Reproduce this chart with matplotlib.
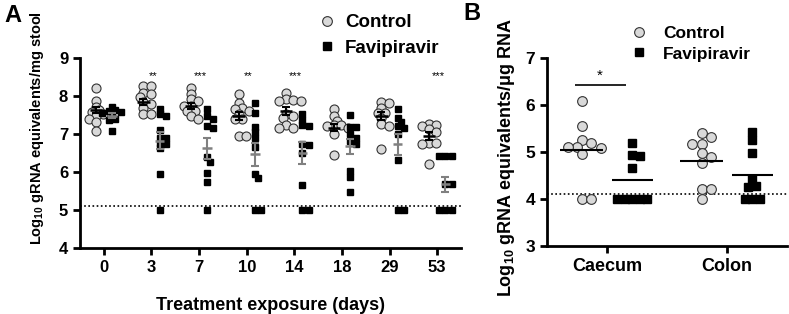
import numpy as np
import matplotlib
matplotlib.use('Agg')
import matplotlib.pyplot as plt
from matplotlib.lines import Line2D

plt.rcParams['font.family'] = ['Liberation Sans', 'DejaVu Sans']
plt.rcParams['font.weight'] = 'bold'
plt.rcParams['mathtext.fontset'] = 'custom'
plt.rcParams['mathtext.rm'] = 'Liberation Sans'

# panel A data (log10 gRNA equivalents / mg stool)
days = ['0', '3', '7', '10', '14', '18', '29', '53']
ctrl_a = [
    [8.2, 7.87, 7.72, 7.62, 7.57, 7.52, 7.48, 7.4, 7.32, 7.07],
    [8.27, 8.27, 8.08, 8.04, 7.98, 7.84, 7.8, 7.68, 7.53, 7.52],
    [8.22, 8.06, 7.91, 7.87, 7.74, 7.74, 7.61, 7.61, 7.47, 7.39],
    [8.06, 7.82, 7.69, 7.65, 7.61, 7.52, 7.39, 7.39, 6.95, 6.95],
    [8.09, 7.91, 7.89, 7.87, 7.87, 7.52, 7.47, 7.43, 7.25, 7.17, 7.17],
    [7.65, 7.47, 7.34, 7.25, 7.25, 7.21, 7.17, 6.99, 6.46],
    [7.85, 7.82, 7.69, 7.56, 7.54, 7.43, 7.27, 7.21, 6.6],
    [7.27, 7.25, 7.21, 7.12, 7.04, 6.77, 6.77, 6.73, 6.2],
]
favi_a = [
    [7.72, 7.62, 7.6, 7.58, 7.55, 7.5, 7.4, 7.38, 7.07],
    [7.67, 7.52, 7.47, 7.1, 6.9, 6.9, 6.77, 6.75, 6.64, 5.94, 5.0],
    [7.65, 7.47, 7.39, 7.21, 7.17, 6.39, 6.27, 5.98, 5.75, 5.0],
    [7.82, 7.56, 7.18, 7.04, 6.89, 6.66, 5.94, 5.83, 5.0, 5.0],
    [7.52, 7.37, 7.24, 7.21, 6.75, 6.71, 6.49, 5.66, 5.0, 5.0],
    [7.5, 7.18, 7.18, 6.99, 6.9, 6.82, 6.73, 6.03, 5.87, 5.48],
    [7.65, 7.43, 7.32, 7.21, 7.15, 7.01, 6.31, 5.0, 5.0],
    [6.42, 6.42, 6.42, 5.68, 5.68, 5.0, 5.0, 5.0],
]
ctrl_mean = [7.63, 7.85, 7.74, 7.47, 7.6, 7.17, 7.47, 6.95]
ctrl_sem = [0.08, 0.08, 0.08, 0.1, 0.1, 0.1, 0.1, 0.1]
favi_mean = [7.48, 6.82, 6.62, 6.47, 6.5, 6.68, 6.73, 5.68]
favi_sem = [0.07, 0.22, 0.28, 0.3, 0.28, 0.2, 0.27, 0.2]
stars_a = ['', '**', '***', '**', '***', '', '', '***']
lod_a = 5.1

# panel B data (log10 gRNA equivalents / ug RNA)
tissues = ['Caecum', 'Colon']
ctrl_b = [
    [6.09, 5.56, 5.25, 5.2, 5.1, 5.1, 5.08, 4.96, 4.0, 4.0],
    [5.4, 5.32, 5.17, 5.17, 4.98, 4.89, 4.76, 4.21, 4.21, 4.0],
]
favi_b = [
    [5.19, 4.94, 4.92, 4.67, 4.0, 4.0, 4.0, 4.0, 4.0],
    [5.42, 5.26, 4.98, 4.43, 4.28, 4.25, 4.0, 4.0, 4.0],
]
lod_b = 4.1

GREY = '#d9d9d9'


def swarm(vals, d_px, xscale, yscale, overlap, step_frac=0.5):
    # simple column-scatter layout, returns x offsets in data units
    placed = []
    offs = []
    step = d_px * step_frac
    for v in vals:
        y = v * yscale
        k = 0
        found = None
        while found is None:
            for s in ([0] if k == 0 else [k, -k]):
                x = s * step
                if all((x - px) ** 2 + (y - py) ** 2 >= (d_px * overlap) ** 2
                       for px, py in placed):
                    found = x
                    break
            k += 1
        placed.append((found, y))
        offs.append(found / xscale)
    return np.array(offs)


def style_axes(ax):
    for s in ['top', 'right']:
        ax.spines[s].set_visible(False)
    for s in ['left', 'bottom']:
        ax.spines[s].set_linewidth(2.0)
    ax.tick_params(width=2.0, length=5, direction='out')


fig = plt.figure(figsize=(7.89, 3.14), dpi=100)

# ---- panel A
axA = fig.add_axes([80 / 789, 1 - 248 / 314, 381 / 789, 190 / 314])
style_axes(axA)
xa, ya = 47.6, 38.0  # px per data unit
for i in range(len(days)):
    c = np.array(ctrl_a[i])
    f = np.array(favi_a[i])
    axA.plot(i - 0.17 + swarm(c, 9, xa, ya, 0.55, 0.4), c, 'o', ms=6.5,
             mfc=GREY, mec='#333333', mew=0.8, ls='none', clip_on=False, zorder=3)
    axA.plot(i + 0.17 + swarm(f, 7, xa, ya, 0.7, 0.45), f, 's', ms=5,
             color='black', ls='none', clip_on=False, zorder=4)
    axA.errorbar(i - 0.17, ctrl_mean[i], yerr=ctrl_sem[i], color='black',
                 lw=1.5, capsize=3, capthick=1.5, zorder=5)
    axA.hlines(ctrl_mean[i], i - 0.3, i - 0.04, color='black', lw=1.8, zorder=5)
    axA.errorbar(i + 0.17, favi_mean[i], yerr=favi_sem[i], color='#808080',
                 lw=1.5, capsize=3, capthick=1.5, zorder=6)
    axA.hlines(favi_mean[i], i + 0.07, i + 0.27, color='#808080', lw=1.8, zorder=6)
    if stars_a[i]:
        axA.text(i + 0.03, 8.52, stars_a[i], ha='center', va='center', fontsize=8,
                 fontweight='normal')
axA.axhline(lod_a, color='black', ls=(0, (1, 1.5)), lw=1.2, zorder=1)
axA.set_xlim(-0.5, 7.5)
axA.set_ylim(4, 9)
axA.set_xticks(range(len(days)))
axA.set_xticklabels(days)
axA.set_yticks(range(4, 10))
axA.tick_params(labelsize=12)
axA.set_xlabel('Treatment exposure (days)', fontsize=13, fontweight='bold', labelpad=16)
axA.set_ylabel('Log$_{10}$ gRNA equivalents/mg stool', fontsize=10.5, fontweight='bold')
axA.yaxis.set_label_coords(-0.09, 0.63)

handles = [
    Line2D([], [], marker='o', ls='none', ms=7, mfc=GREY, mec='#333333', mew=0.8),
    Line2D([], [], marker='s', ls='none', ms=6, color='black'),
]
fig.legend(handles, ['Control', 'Favipiravir'], loc='upper left',
           bbox_to_anchor=(318 / 789, 1 - 14 / 314), frameon=False,
           prop={'size': 13.5, 'weight': 'bold'}, handlelength=1.0,
           handletextpad=0.45, labelspacing=0.45, borderpad=0, borderaxespad=0)

# ---- panel B
axB = fig.add_axes([547 / 789, 1 - 246 / 314, 240 / 789, 188 / 314])
style_axes(axB)
xb, yb = 121.0, 47.0
for i in range(len(tissues)):
    c = np.array(ctrl_b[i])
    f = np.array(favi_b[i])
    axB.plot(i - 0.21 + swarm(c, 9.5, xb, yb, 0.85), c, 'o', ms=7,
             mfc=GREY, mec='#333333', mew=0.8, ls='none', clip_on=False, zorder=3)
    axB.plot(i + 0.21 + swarm(f, 7.5, xb, yb, 1.0), f, 's', ms=5.5,
             color='black', ls='none', clip_on=False, zorder=4)
    axB.hlines(np.mean(c), i - 0.39, i - 0.03, color='black', lw=1.5, zorder=5)
    axB.hlines(np.mean(f), i + 0.04, i + 0.38, color='black', lw=1.5, zorder=5)
axB.axhline(lod_b, color='black', ls=(0, (1, 1.5)), lw=1.2, zorder=1)
axB.hlines(6.42, -0.27, 0.16, color='black', lw=1.2)
axB.text(-0.06, 6.62, '*', ha='center', va='center', fontsize=11, fontweight='normal')
axB.set_xlim(-0.5, 1.5)
axB.set_ylim(3, 7)
axB.set_xticks(range(len(tissues)))
axB.set_xticklabels(tissues, fontsize=13)
axB.set_yticks(range(3, 8))
axB.tick_params(axis='y', labelsize=12.5)
axB.set_ylabel('Log$_{10}$ gRNA equivalents/μg RNA', fontsize=13, fontweight='bold')
axB.yaxis.set_label_coords(-0.125, 0.47)

fig.legend(handles, ['Control', 'Favipiravir'], loc='upper left',
           bbox_to_anchor=(630 / 789, 1 - 26 / 314), frameon=False,
           prop={'size': 12.5, 'weight': 'bold'}, handlelength=1.0,
           handletextpad=0.9, labelspacing=0.3, borderpad=0, borderaxespad=0)

fig.text(4 / 789, 1 - 4 / 314, 'A', fontsize=17, fontweight='bold', va='top')
fig.text(463 / 789, 1 - 2 / 314, 'B', fontsize=17, fontweight='bold', va='top')

fig.savefig('out.png', dpi=100)
